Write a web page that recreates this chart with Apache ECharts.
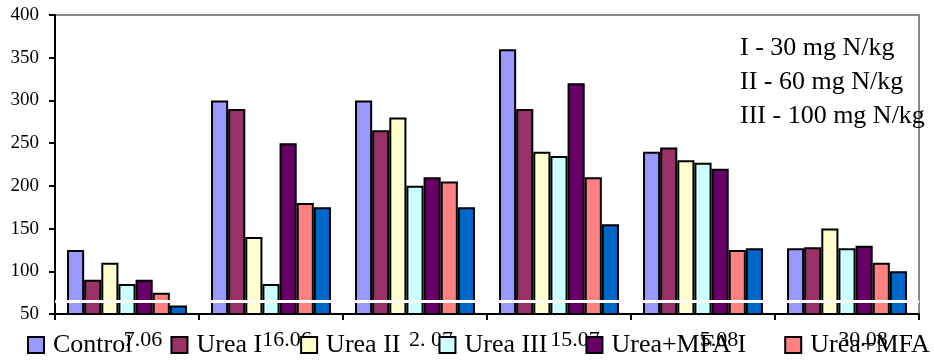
<!DOCTYPE html>
<html>
<head>
<meta charset="utf-8">
<script src="https://cdn.jsdelivr.net/npm/echarts@6/dist/echarts.min.js"></script>
<style>
html,body{margin:0;padding:0;background:#fff;}
#chart{width:934px;height:361px;}
</style>
</head>
<body>
<div id="chart"></div>
<script>
var categories = ['7.06', '16.06', '2. 07', '15.07', '5.08', '30.08'];
var seriesNames = ['Control', 'Urea I', 'Urea II', 'Urea III', 'Urea+MFA I', 'Urea+MFA II', 'Urea+MFA III'];
var seriesColors = ['#9999FF', '#993366', '#FFFFCC', '#CCFFFF', '#660066', '#FF8080', '#0066CC'];
var control    = [125, 300, 300, 360, 240, 127];
var ureaI      = [90, 290, 265, 290, 245, 128];
var ureaII     = [110, 140, 280, 240, 230, 150];
var ureaIII    = [85, 85, 200, 235, 227, 127];
var ureaMfaI   = [90, 250, 210, 320, 220, 130];
var ureaMfaII  = [75, 180, 205, 210, 125, 110];
var ureaMfaIII = [60, 175, 175, 155, 127, 100];
var seriesValues = [control, ureaI, ureaII, ureaIII, ureaMfaI, ureaMfaII, ureaMfaIII];
var yTicks = { min: 50, max: 400, interval: 50 };
var breakValue = 65;
var noteText = ['I - 30 mg N/kg', 'II - 60 mg N/kg', 'III - 100 mg N/kg'];

var font = "'Liberation Serif', 'Times New Roman', serif";

var series = seriesNames.map(function (name, i) {
  return {
    name: name,
    type: 'bar',
    data: seriesValues[i],
    barGap: '0%',
    barCategoryGap: '16.7%',
    itemStyle: { color: seriesColors[i], borderColor: '#000', borderWidth: 2 },
    emphasis: { disabled: true }
  };
});
series.push({
  name: 'break',
  type: 'line',
  data: [],
  z: 10,
  silent: true,
  markLine: {
    silent: true,
    symbol: 'none',
    label: { show: false },
    lineStyle: { color: '#fff', width: 3, type: 'solid' },
    data: [{ yAxis: breakValue }]
  }
});

var chart = echarts.init(document.getElementById('chart'), null, { renderer: 'canvas' });
chart.setOption({
  animation: false,
  backgroundColor: '#fff',
  title: {
    text: noteText.join('\n'),
    left: 740,
    top: 31,
    padding: 0,
    textStyle: { fontFamily: font, fontSize: 26, fontWeight: 'normal', color: '#000', lineHeight: 34 }
  },
  legend: {
    data: seriesNames,
    left: 27,
    top: 332,
    width: 2000,
    padding: 0,
    itemWidth: 16,
    itemHeight: 16,
    itemGap: 38,
    icon: 'rect',
    textStyle: { fontFamily: font, fontSize: 26, color: '#000', padding: [0, 0, 0, 4] }
  },
  grid: {
    left: 55, right: 15, top: 15, bottom: 47,
    show: true, borderColor: '#888', borderWidth: 2, backgroundColor: 'transparent'
  },
  xAxis: {
    type: 'category',
    data: categories,
    axisLine: { lineStyle: { color: '#000', width: 2 } },
    axisTick: { show: true, length: 6, lineStyle: { color: '#000', width: 2 } },
    axisLabel: { fontFamily: font, fontSize: 22, color: '#000', margin: 15, padding: [0, 0, 0, 32] },
    splitLine: { show: false }
  },
  yAxis: {
    type: 'value',
    min: yTicks.min,
    max: yTicks.max,
    interval: yTicks.interval,
    axisLine: { show: true, lineStyle: { color: '#000', width: 2 } },
    axisTick: { show: true, length: 6, lineStyle: { color: '#000', width: 2 } },
    axisLabel: { fontFamily: font, fontSize: 19, color: '#000', margin: 16 },
    splitLine: { show: false }
  },
  series: series
});
</script>
</body>
</html>
